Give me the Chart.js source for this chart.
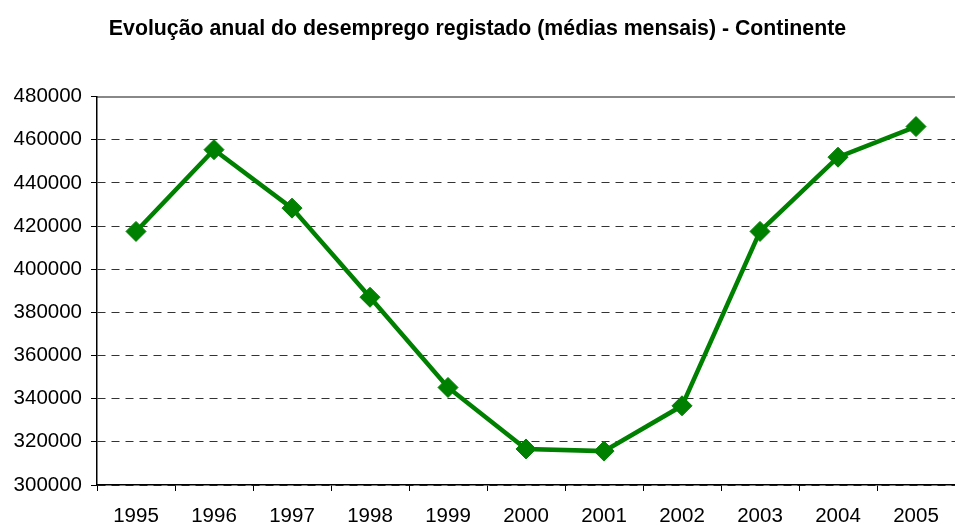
<!DOCTYPE html>
<html>
<head>
<meta charset="utf-8">
<script src="https://cdn.jsdelivr.net/npm/chart.js@4"></script>
<style>
  html, body { margin: 0; padding: 0; background: #fff; }
  #wrap { width: 955px; height: 525px; }
</style>
</head>
<body>
<div id="wrap"><canvas id="chart"></canvas></div>
<script>
const years = ['1995', '1996', '1997', '1998', '1999', '2000', '2001', '2002', '2003', '2004', '2005'];
const unemployed = [417500, 455400, 428300, 387000, 345200, 316700, 315700, 336700, 417500, 451900, 466100];
const yTicks = [300000, 320000, 340000, 360000, 380000, 400000, 420000, 440000, 460000, 480000];

const green = '#008000';
const font = 'Arial, "Liberation Sans", sans-serif';

const noSidePadding = (scale) => {
  scale.paddingLeft = 0;
  scale.paddingRight = 0;
};

new Chart(document.getElementById('chart'), {
  type: 'line',
  data: {
    labels: years,
    datasets: [{
      data: unemployed,
      borderColor: green,
      backgroundColor: green,
      borderWidth: 4.5,
      pointStyle: 'rectRot',
      pointRadius: 10,
      pointHoverRadius: 10,
      pointBorderWidth: 1,
      tension: 0,
    }],
  },
  options: {
    responsive: true,
    maintainAspectRatio: false,
    animation: false,
    layout: { padding: 0, autoPadding: false },
    plugins: {
      legend: { display: false },
      tooltip: { enabled: false },
      title: {
        display: true,
        text: 'Evolução anual do desemprego registado (médias mensais) - Continente',
        color: '#000',
        font: { family: font, size: 21.3, weight: 'bold' },
        padding: { top: 16, bottom: 55 },
      },
    },
    scales: {
      x: {
        offset: true,
        grid: {
          offset: true,
          drawOnChartArea: false,
          drawTicks: true,
          tickLength: 6,
          color: '#000',
        },
        border: { color: '#000', width: 1.5 },
        ticks: {
          color: '#000',
          padding: 13,
          maxRotation: 0,
          font: { family: font, size: 20.5 },
        },
        afterFit: (scale) => {
          scale.height = 40;
          noSidePadding(scale);
        },
      },
      x2: {
        position: 'top',
        type: 'category',
        labels: years,
        grid: { display: false },
        ticks: { display: false },
        border: { color: '#888', width: 2 },
        afterFit: (scale) => {
          scale.height = 0;
          noSidePadding(scale);
        },
      },
      y: {
        min: 300000,
        max: 480000,
        afterBuildTicks: (scale) => {
          scale.ticks = yTicks.map((v) => ({ value: v }));
        },
        grid: {
          color: (ctx) => (ctx.tick && ctx.tick.value === 480000 ? 'rgba(0,0,0,0)' : '#333'),
          lineWidth: 1,
          tickLength: 6,
          tickColor: '#000',
        },
        border: { color: '#000', width: 1.5, dash: [8, 6] },
        ticks: {
          color: '#000',
          padding: 9,
          font: { family: font, size: 20.5 },
          callback: (v) => String(v),
        },
        afterFit: (scale) => { scale.width = 97; },
      },
    },
  },
});
</script>
</body>
</html>
